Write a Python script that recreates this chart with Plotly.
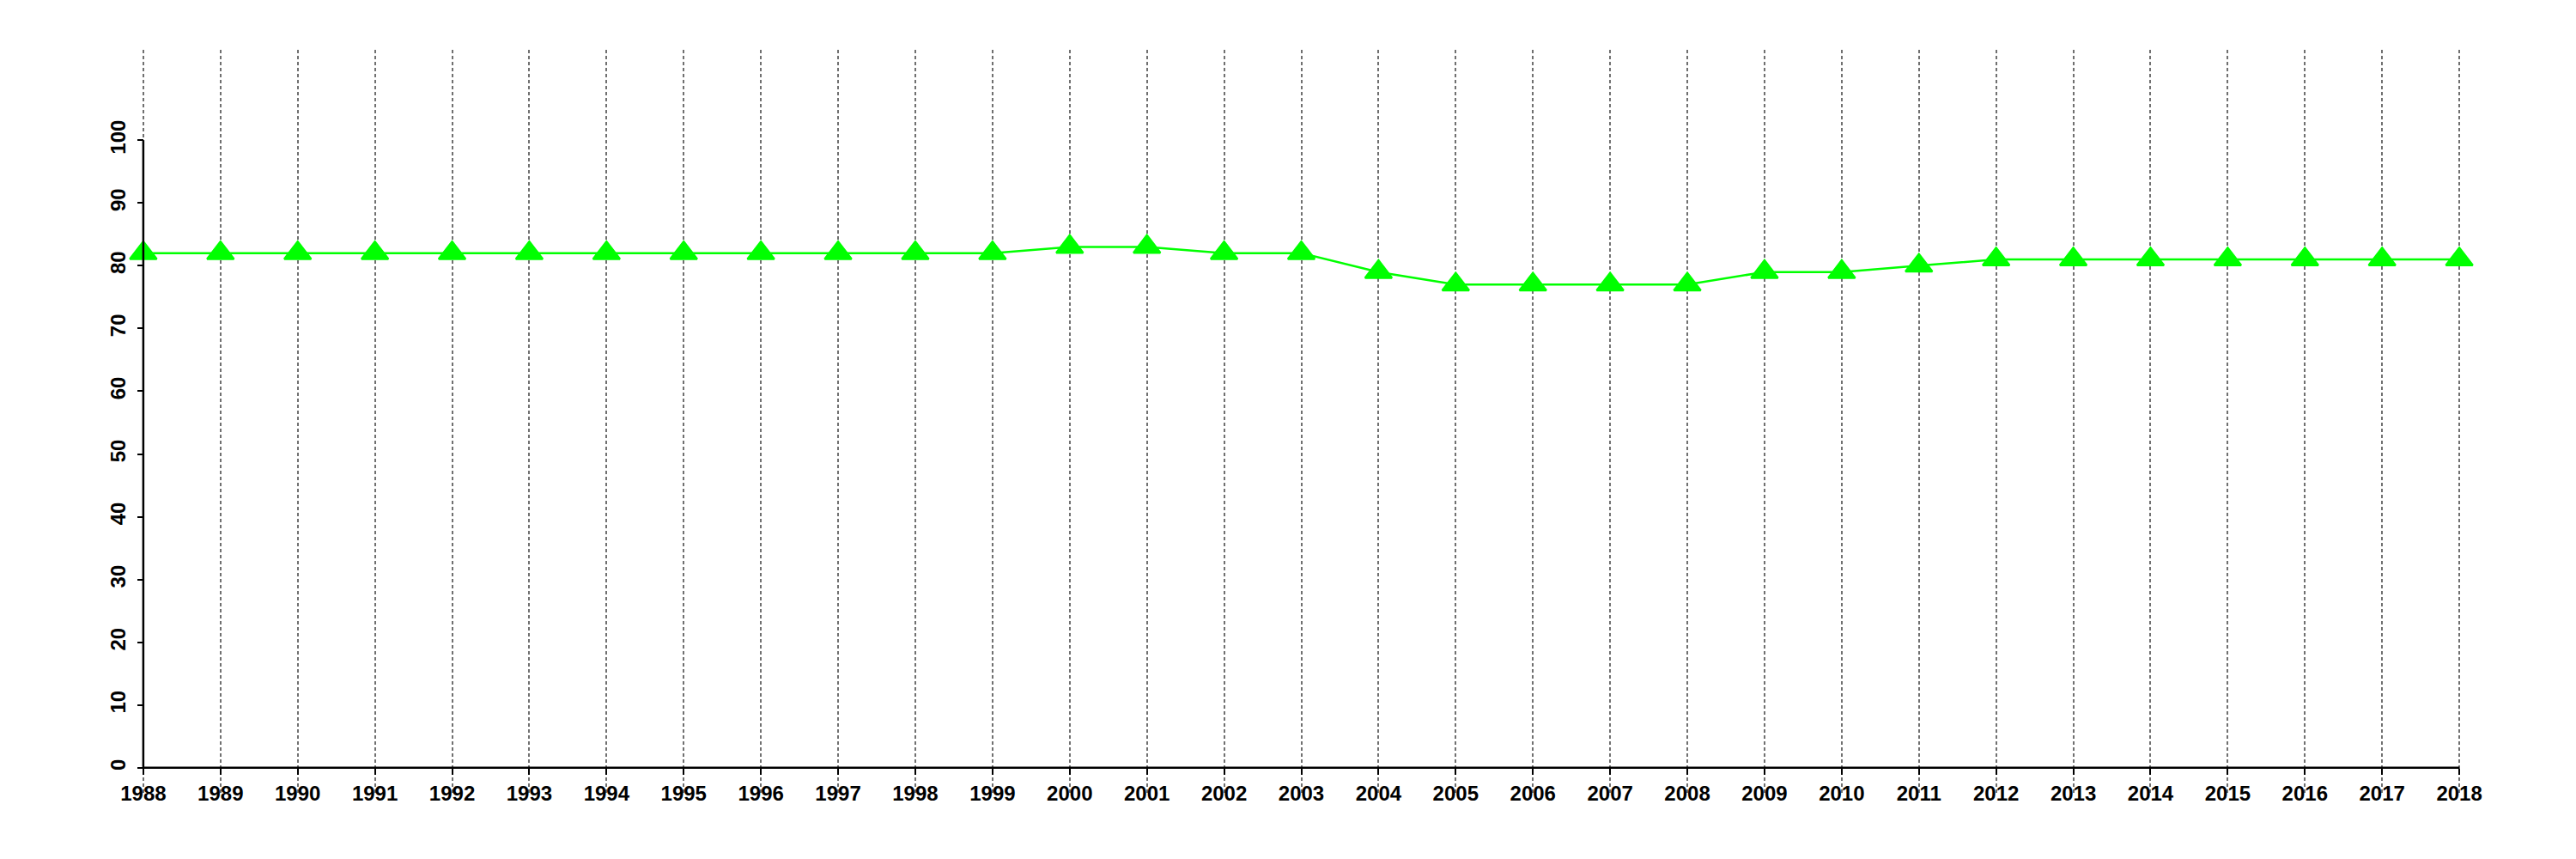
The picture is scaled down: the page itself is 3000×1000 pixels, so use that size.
import plotly.graph_objects as go

years = list(range(1988, 2019))
values = [82, 82, 82, 82, 82, 82, 82, 82, 82, 82, 82, 82,
          83, 83, 82, 82, 79, 77, 77, 77, 77, 79, 79, 80,
          81, 81, 81, 81, 81, 81, 81]
y_ticks = [0, 10, 20, 30, 40, 50, 60, 70, 80, 90, 100]

x_min, x_max = years[0], years[-1]
x_pad = 0.04 * (x_max - x_min)
y_lo, y_hi = 0, 110
y_pad = 0.04 * (y_hi - y_lo)
xr = [x_min - x_pad, x_max + x_pad]
yr = [y_lo - y_pad, y_hi + y_pad]
x_pos = (x_min - xr[0]) / (xr[1] - xr[0])
y_pos = (0 - yr[0]) / (yr[1] - yr[0])

fig = go.Figure()
fig.add_trace(go.Scatter(
    x=years, y=values, mode="lines+markers",
    line=dict(color="#00ff00", width=2.5),
    marker=dict(symbol="triangle-up", size=27, color="#00ff00",
                line=dict(color="#00ff00", width=2.5)),
    cliponaxis=False, showlegend=False,
))

font = dict(family="Liberation Sans, Arial, sans-serif", size=24, color="black", weight="bold")

fig.update_layout(
    width=3000, height=1000,
    margin=dict(l=51, r=36, t=50, b=82, autoexpand=False),
    paper_bgcolor="white", plot_bgcolor="white",
    xaxis=dict(
        range=xr, tickvals=years, ticktext=[str(y) for y in years],
        showgrid=True, gridcolor="#707070", gridwidth=2, griddash="4px,3px",
        zeroline=False, showline=False, automargin=False,
        ticks="outside", ticklen=7, tickwidth=2, tickcolor="black",
        tickfont=font, anchor="free", position=y_pos, ticklabelstandoff=1,
    ),
    yaxis=dict(
        range=yr, tickvals=y_ticks, ticktext=[str(v) for v in y_ticks],
        showgrid=False, zeroline=False, showline=False, automargin=False,
        ticks="outside", ticklen=7, tickwidth=2, tickcolor="black",
        tickfont=font, tickangle=-90, anchor="free", position=x_pos,
        ticklabelstandoff=4,
    ),
)

fig.add_shape(type="line", x0=x_min, x1=x_max, y0=0, y1=0,
              line=dict(color="black", width=2.5), layer="above")
fig.add_shape(type="line", x0=x_min, x1=x_min, y0=y_ticks[0], y1=y_ticks[-1],
              line=dict(color="black", width=2.5), layer="above")

fig.write_html("out.html")
